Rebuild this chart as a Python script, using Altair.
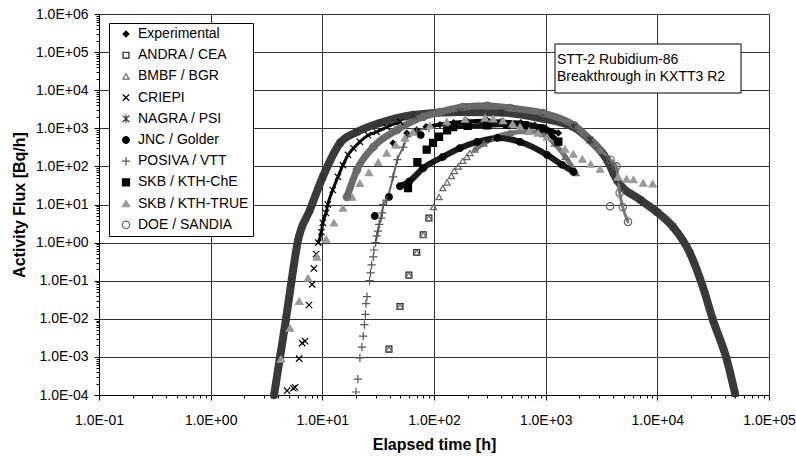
import altair as alt
import pandas as pd

# ---------------- data ----------------
SERIES = ["Experimental", "ANDRA / CEA", "BMBF / BGR", "CRIEPI", "NAGRA / PSI",
          "JNC / Golder", "POSIVA / VTT", "SKB / KTH-ChE", "SKB / KTH-TRUE", "DOE / SANDIA"]

exp_t = [43, 57, 70, 85, 113, 150, 200, 300, 400, 600, 800, 1000, 1300]
exp_f = [410, 750, 900, 1100, 1250, 1400, 1500, 1600, 1500, 1400, 1200, 1000, 750]

andra_t = [39.5, 49.6, 59.6, 70, 80, 90]
andra_f = [1.6e-3, 2.1e-2, 0.14, 0.55, 1.6, 4.4]

bmbf_t = [39.5, 49.6, 59.6, 70, 80, 90, 99, 111, 120, 131, 143, 152, 165, 181, 197, 210, 233,
          280, 350, 480, 700, 950, 1200, 1500, 1870]
bmbf_f = [1.6e-3, 2.1e-2, 0.14, 0.55, 1.6, 4.4, 8.6, 15.7, 27, 38, 56, 76, 100, 140, 177, 225, 276,
          400, 560, 750, 820, 700, 400, 180, 67]

criepi_t = [4.83, 5.5, 5.7, 6.2, 6.6, 7.0, 7.6, 8.1, 8.4, 8.8, 9.2, 9.8, 10.1, 10.8, 11.2, 12.4,
            13.8, 15.3, 17, 19, 21.7, 25.7, 30.7, 37.7, 50]
criepi_f = [1.3e-4, 1.5e-4, 1.6e-4, 9e-4, 2.3e-3, 2.6e-3, 2.3e-2, 0.08, 0.21, 0.5, 1, 1.9, 3.3, 6, 10, 24,
            53, 108, 200, 300, 440, 660, 800, 1080, 1480]

nagra_t = [3.7, 4.18, 4.73, 5.3, 6.0, 7.75, 10.1, 14.4, 20.4, 32.8, 65, 171, 400, 889, 1770, 2495,
           3540, 4350, 7100, 9970, 13800, 19600, 25600, 31500, 42000, 49600]
nagra_f = [1e-4, 1e-3, 1e-2, 0.1, 1, 7.2, 53, 411, 800, 1377, 2233, 2680, 2600, 1862, 1081, 493,
           150, 44, 13, 6.3, 2.6, 0.53, 0.068, 0.0093, 8.3e-4, 1.1e-4]

jnc_t = [29.5, 39.5, 76, 49.6, 60, 80, 120, 170, 243, 370, 590, 1030, 1400, 1770]
jnc_f = [5.0, 15.7, 670, 30, 40, 90, 178, 300, 440, 560, 440, 200, 110, 72]

posiva_t = [20, 20.8, 21.7, 22.6, 23.2, 23.8, 24.3, 24.6, 25.1, 26.5, 27, 27.6, 28.6, 29, 30, 30.7,
            31.5, 32.3, 33.5, 34.4, 35, 37.7, 43, 47, 53, 58, 70, 90]
posiva_f = [1.2e-4, 2.6e-4, 9.4e-4, 1.8e-3, 3.5e-3, 7e-3, 1.3e-2, 2.5e-2, 3.8e-2, 0.1, 0.16, 0.26, 0.42,
            0.64, 1, 1.5, 2, 3, 4.4, 6, 10, 13, 53, 150, 320, 600, 850, 1000]

che_t = [58.5, 71, 86, 98, 111, 131, 148, 200, 300, 450, 650, 900, 1100, 1300]
che_f = [27, 130, 275, 413, 600, 880, 1080, 1150, 1200, 1250, 1200, 1000, 700, 450]

true_t = [4.26, 5.13, 6.2, 7.45, 8.96, 10.8, 12.7, 15.3, 18.5, 21.7, 26.2, 31.6, 37.7, 45.5, 54.8, 65,
          92, 130, 190, 286, 339, 415, 505, 590, 710, 855, 1030, 1490, 1770, 2130, 2530, 3070, 4440,
          5300, 6100, 7480, 9100]
true_f = [8.8e-4, 5.7e-3, 0.029, 0.118, 0.42, 1.24, 3.3, 8.1, 15.7, 36, 69, 129, 225, 365, 560, 800,
          1180, 1500, 1750, 1870, 1780, 1600, 1300, 1100, 850, 750, 590, 286, 211, 156, 115, 85, 53,
          47, 45, 36.6, 35]

doe_t = [16.6, 20.4, 28.6, 46.6, 80, 113, 181, 300, 479, 946, 1800, 3060, 3800, 4300, 4600, 4900, 5460, 3770]
doe_f = [15.7, 80, 323, 900, 2000, 2680, 3620, 3900, 3400, 2520, 1200, 270, 150, 100, 20, 8.6, 3.5, 9]

ANNOTATION = ["STT-2 Rubidium-86", "Breakthrough in KXTT3 R2"]

# ---------------- styles ----------------
X_PATH = "M-1,-1L1,1M-1,1L1,-1"
AST_PATH = "M-1,-1L1,1M-1,1L1,-1M0,-1.3L0,1.3"
PLUS_PATH = "M-1.2,0L1.2,0M0,-1.2L0,1.2"
SHAPES = ["diamond", "square", "triangle-up", X_PATH, AST_PATH, "circle", PLUS_PATH,
          "square", "triangle-up", "circle"]
STROKES = ["#000000", "#222222", "#666666", "#000000", "#333333", "#000000", "#555555",
           "#000000", "#9a9a9a", "#666666"]
FILLS = ["#000000", "transparent", "transparent", "transparent", "transparent", "#000000",
         "transparent", "#000000", "#9a9a9a", "transparent"]
SIZES = [32, 55, 40, 40, 40, 40, 45, 38, 50, 30]

# dense parts of series drawn as thick bands: (series, from index, to index, colour, width)
BANDS = [("Experimental", 3, 13, "#000000", 4),
         ("BMBF / BGR", 16, 25, "#777777", 5),
         ("CRIEPI", 10, 25, "#000000", 3),
         ("NAGRA / PSI", 0, 26, "#3a3a3a", 8),
         ("JNC / Golder", 3, 14, "#1a1a1a", 6),
         ("POSIVA / VTT", 14, 28, "#666666", 2),
         ("SKB / KTH-ChE", 6, 14, "#111111", 5),
         ("DOE / SANDIA", 0, 12, "#6a6a6a", 7),
         ("DOE / SANDIA", 11, 17, "#777777", 3)]

data = {
    "Experimental": (exp_t, exp_f), "ANDRA / CEA": (andra_t, andra_f), "BMBF / BGR": (bmbf_t, bmbf_f),
    "CRIEPI": (criepi_t, criepi_f), "NAGRA / PSI": (nagra_t, nagra_f), "JNC / Golder": (jnc_t, jnc_f),
    "POSIVA / VTT": (posiva_t, posiva_f), "SKB / KTH-ChE": (che_t, che_f),
    "SKB / KTH-TRUE": (true_t, true_f), "DOE / SANDIA": (doe_t, doe_f),
}

rows = []
for i, s in enumerate(SERIES):
    t, f = data[s]
    for a, b in zip(t, f):
        rows.append({"series": s, "t": a, "f": b, "ord": i})
pts = pd.DataFrame(rows)

lrows = []
for j, (s, i0, i1, col, w) in enumerate(BANDS):
    t, f = data[s]
    for k, (a, b) in enumerate(zip(t[i0:i1], f[i0:i1])):
        lrows.append({"band": j, "t": a, "f": b, "lc": col, "lw": w, "k": k})
lines = pd.DataFrame(lrows)

ann = pd.DataFrame({"txt": ["\n".join(ANNOTATION)]})

# ---------------- axes ----------------
x_ticks = sorted([10.0 ** k for k in range(-1, 6)] + [m * 10.0 ** k for k in range(-1, 5) for m in range(2, 10)])
y_ticks = sorted([10.0 ** k for k in range(-4, 7)] + [m * 10.0 ** k for k in range(-4, 6) for m in range(2, 10)])

DEC = "abs(log(datum.value)/LN10 - round(log(datum.value)/LN10)) < 0.01"
EXP = "round(log(datum.value)/LN10)"
LABEL = f"{DEC} ? '1.0E' + ({EXP} < 0 ? '-' : '+') + (abs({EXP}) < 10 ? '0' : '') + abs({EXP}) : ''"

FONT = "Liberation Sans"

common_axis = dict(
    labelExpr=LABEL, labelOverlap=False, labelFlush=False, labelBound=False,
    labelFont=FONT, labelFontSize=14, labelColor="#000000",
    gridColor="#333333", gridWidth=1,
    gridOpacity={"condition": {"test": DEC, "value": 1}, "value": 0},
    tickSize={"condition": {"test": DEC, "value": 5}, "value": 3},
    tickColor="#000000", domainColor="#000000",
    titleFont=FONT, titleFontSize=16, titleFontWeight="bold", titleColor="#000000",
)

x_axis = alt.Axis(values=x_ticks, title="Elapsed time [h]", labelPadding=13,
                  titleX=335, titleY=49, titleBaseline="middle", titleAlign="center", **common_axis)
y_axis = alt.Axis(values=y_ticks, title="Activity Flux [Bq/h]", labelPadding=6,
                  titleX=-80, titleY=190.5, titleBaseline="middle", titleAlign="center", titleAngle=270,
                  **common_axis)

xs = alt.Scale(type="log", domain=[0.1, 1e5], nice=False)
ys = alt.Scale(type="log", domain=[1e-4, 1e6], nice=False)

band_layer = alt.Chart(lines).mark_line(interpolate="monotone", strokeCap="round", strokeJoin="round").encode(
    x=alt.X("t:Q", scale=xs, axis=x_axis),
    y=alt.Y("f:Q", scale=ys, axis=y_axis),
    color=alt.Color("lc:N", scale=None),
    strokeWidth=alt.StrokeWidth("lw:Q", scale=None),
    detail="band:N",
    order="k:Q",
)

legend = alt.Legend(orient="none", legendX=10, legendY=9, fillColor="white", strokeColor="black",
                    padding=4, rowPadding=7.2, labelFont=FONT, labelFontSize=14, labelColor="#000000",
                    symbolOffset=6, labelOffset=5, symbolStrokeWidth=1.2, labelLimit=300,
                    labelExpr="datum.label + '\u00a0\u00a0'")

point_layer = alt.Chart(pts).mark_point(strokeWidth=1.2, opacity=1).encode(
    x=alt.X("t:Q", scale=xs),
    y=alt.Y("f:Q", scale=ys),
    stroke=alt.Stroke("series:N", scale=alt.Scale(domain=SERIES, range=STROKES), title=None, legend=legend),
    fill=alt.Fill("series:N", scale=alt.Scale(domain=SERIES, range=FILLS), title=None, legend=legend),
    shape=alt.Shape("series:N", scale=alt.Scale(domain=SERIES, range=SHAPES), title=None, legend=legend),
    size=alt.Size("series:N", scale=alt.Scale(domain=SERIES, range=SIZES), title=None, legend=legend),
    order="ord:Q",
)

box = alt.Chart(ann).mark_rect(fill="white", stroke="black", strokeWidth=1).encode(
    x=alt.value(456), x2=alt.value(642), y=alt.value(30), y2=alt.value(79)
)

ann_text = alt.Chart(ann).mark_text(align="left", baseline="top", font=FONT, fontSize=14,
                                    lineBreak="\n", lineHeight=17, color="#000000").encode(
    x=alt.value(458),
    y=alt.value(39),
    text="txt:N",
)

chart = alt.layer(band_layer, point_layer, box, ann_text).properties(
    width=670, height=381,
    autosize=alt.AutoSizeParams(type="none"),
    padding={"left": 99, "top": 14, "right": 27, "bottom": 62},
).configure(font=FONT, background="white").configure_view(stroke=None)

chart.save("out.html", embed_options={"renderer": "svg", "actions": False})
